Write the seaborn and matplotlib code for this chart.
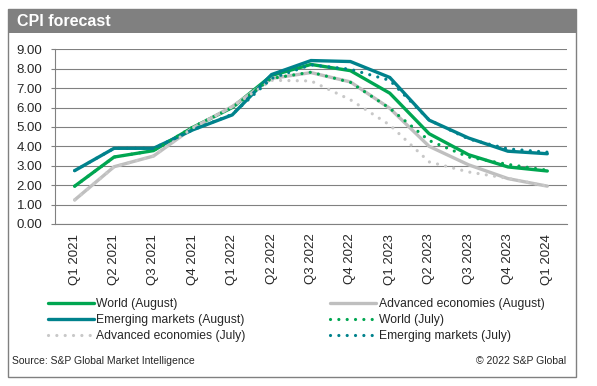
import pandas as pd
import matplotlib.pyplot as plt
import seaborn as sns
from matplotlib.patches import Rectangle

quarters = ['Q1 2021', 'Q2 2021', 'Q3 2021', 'Q4 2021', 'Q1 2022', 'Q2 2022', 'Q3 2022',
            'Q4 2022', 'Q1 2023', 'Q2 2023', 'Q3 2023', 'Q4 2023', 'Q1 2024']

world_aug = [1.95, 3.45, 3.78, 4.98, 6.00, 7.65, 8.22, 7.90, 6.74, 4.65, 3.57, 2.94, 2.73]
adv_aug = [1.24, 2.95, 3.50, 4.95, 6.05, 7.50, 7.80, 7.32, 5.96, 4.00, 3.05, 2.34, 1.95]
emerg_aug = [2.75, 3.90, 3.90, 4.85, 5.62, 7.70, 8.42, 8.37, 7.55, 5.35, 4.43, 3.75, 3.62]
world_jul = [1.95, 3.45, 3.78, 5.00, 6.00, 7.50, 7.82, 7.30, 5.96, 4.30, 3.45, 3.07, 2.77]
adv_jul = [1.24, 2.95, 3.50, 4.95, 6.05, 7.40, 7.37, 6.40, 5.10, 3.20, 2.68, 2.35, 1.95]
emerg_jul = [2.75, 3.90, 3.90, 4.85, 5.65, 7.50, 8.20, 7.97, 7.40, 5.36, 4.38, 3.87, 3.70]

yticks = [0, 1, 2, 3, 4, 5, 6, 7, 8, 9]

GREEN = '#00A651'
TEAL = '#00828C'
GRAY = '#BFBFBF'
GRAY_DOT = '#C8C8C8'

sns.set_style('white')
plt.rcParams['font.family'] = ['Liberation Sans', 'DejaVu Sans']

W, H = 597, 386
fig = plt.figure(figsize=(W / 100, H / 100), dpi=100)

# outer frame + title bar
fig.patches.append(Rectangle((8 / W, (H - 377) / H), 568 / W, 368 / H, transform=fig.transFigure,
                             fill=False, edgecolor='#808080', lw=1))
fig.patches.append(Rectangle((8 / W, (H - 33) / H), 568 / W, 24 / H, transform=fig.transFigure,
                             facecolor='#808080', edgecolor='none'))
fig.text(17 / W, (H - 21) / H, 'CPI forecast', color='white', fontsize=11.5, fontweight='bold',
         va='center', ha='left')

ax = fig.add_axes([55 / W, (H - 224) / H, 512 / W, (224 - 49.3) / H])

x = list(range(len(quarters)))
series = [
    ('World (August)', world_aug, GREEN, 'solid'),
    ('Advanced economies (August)', adv_aug, GRAY, 'solid'),
    ('Emerging markets (August)', emerg_aug, TEAL, 'solid'),
    ('World (July)', world_jul, GREEN, 'dot'),
    ('Advanced economies (July)', adv_jul, GRAY_DOT, 'dot'),
    ('Emerging markets (July)', emerg_jul, TEAL, 'dot'),
]
handles = {}
for name, vals, col, style in series:
    df = pd.DataFrame({'q': x, 'v': vals})
    if style == 'solid':
        sns.lineplot(data=df, x='q', y='v', ax=ax, color=col, lw=2.4, label=name,
                     solid_joinstyle='miter')
    else:
        sns.lineplot(data=df, x='q', y='v', ax=ax, color=col, lw=2.3, label=name,
                     linestyle=(0, (0.01, 2.6)), dash_capstyle='round')
    handles[name] = ax.get_lines()[-1]

ax.set_xlim(-0.5, len(quarters) - 0.5)
ax.set_ylim(0, 9)
ax.set_yticks(yticks)
ax.set_yticklabels([f'{v:.2f}' for v in yticks], fontsize=9.5)
ax.set_xticks(x)
ax.set_xticklabels(quarters, rotation=90, fontsize=9.5)
ax.set_xticks([i - 0.5 for i in range(len(quarters) + 1)], minor=True)
ax.tick_params(axis='x', which='major', length=0, pad=7)
ax.tick_params(axis='x', which='minor', length=4, color='#808080', width=0.8, direction='out')
ax.tick_params(axis='y', length=3, color='#808080', width=0.8, pad=6, left=True)
ax.set_xlabel('')
ax.set_ylabel('')
ax.grid(axis='y', color='#808080', lw=0.8)
ax.set_axisbelow(True)
for s in ['top', 'right']:
    ax.spines[s].set_visible(False)
for s in ['left', 'bottom']:
    ax.spines[s].set_color('#808080')
    ax.spines[s].set_linewidth(0.8)

# Excel-style legend: rows filled left to right
order = ['World (August)', 'Emerging markets (August)', 'Advanced economies (July)',
         'Advanced economies (August)', 'World (July)', 'Emerging markets (July)']
ax.legend([handles[n] for n in order], order, ncol=2, frameon=False, fontsize=8.7,
          loc='upper left', bbox_to_anchor=(48 / W, (H - 298) / H), bbox_transform=fig.transFigure,
          handlelength=3.8, handletextpad=0.2, columnspacing=7.0, labelspacing=0.35,
          borderaxespad=0, borderpad=0)

fig.text(12 / W, (H - 361) / H, 'Source: S&P Global Market Intelligence', fontsize=7.5, va='center')
fig.text(566 / W, (H - 361) / H, '\u00a9 2022 S&P Global', fontsize=7.5, va='center', ha='right')

fig.savefig('out.png', dpi=100)
